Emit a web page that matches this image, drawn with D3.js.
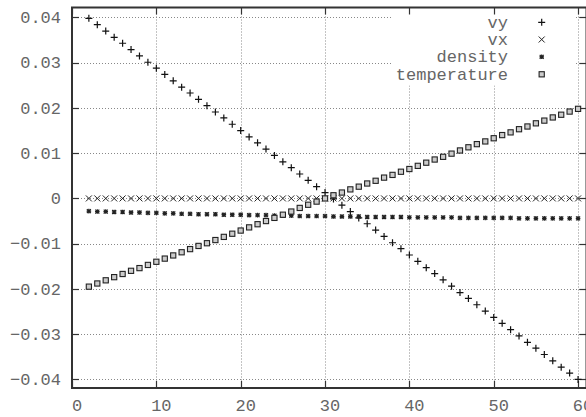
<!DOCTYPE html>
<html>
<head>
<meta charset="utf-8">
<script src="https://cdn.jsdelivr.net/npm/d3@7"></script>
<style>
  body { margin: 0; background: #fff; }
  #chart { width: 586px; height: 417px; }
  text { font-family: "Liberation Mono", "Courier New", monospace; fill: #666; }
</style>
</head>
<body>
<div id="chart"></div>
<script>
// sample positions (grid index)
var xs = [2,3,4,5,6,7,8,9,10,11,12,13,14,15,16,17,18,19,20,21,22,23,24,25,26,27,28,29,30,
          31,32,33,34,35,36,37,38,39,40,41,42,43,44,45,46,47,48,49,50,51,52,53,54,55,56,57,58,59,60];

var vy = [0.0398,0.0384,0.0370,0.0356,0.0343,0.0329,0.0315,0.0301,0.0288,0.0274,0.0260,0.0246,0.0233,0.0219,0.0205,
          0.0191,0.0178,0.0164,0.0150,0.0136,0.0123,0.0109,0.0095,0.0081,0.0068,0.0054,0.0040,0.0026,0.0013,
          -0.0001,-0.0015,-0.0029,-0.0043,-0.0056,-0.0070,-0.0084,-0.0098,-0.0111,-0.0125,-0.0139,-0.0153,-0.0166,
          -0.0180,-0.0194,-0.0208,-0.0221,-0.0235,-0.0249,-0.0263,-0.0276,-0.0290,-0.0304,-0.0318,-0.0331,-0.0345,
          -0.0359,-0.0373,-0.0386,-0.0400];

var vx = [0,0,0,0,0,0,0,0,0,0,0,0,0,0,0,0,0,0,0,0,0,0,0,0,0,0,0,0,0,
          0,0,0,0,0,0,0,0,0,0,0,0,0,0,0,0,0,0,0,0,0,0,0,0,0,0,0,0,0,0];

var density = [-0.0028,-0.0029,-0.0029,-0.0030,-0.0030,-0.0031,-0.0031,-0.0032,-0.0032,-0.0033,-0.0033,-0.0034,
               -0.0034,-0.0035,-0.0035,-0.0035,-0.0036,-0.0036,-0.0036,-0.0037,-0.0037,-0.0037,-0.0038,-0.0038,
               -0.0038,-0.0039,-0.0039,-0.0039,-0.0039,-0.0040,-0.0040,-0.0040,-0.0040,-0.0041,-0.0041,-0.0041,
               -0.0041,-0.0041,-0.0042,-0.0042,-0.0042,-0.0042,-0.0042,-0.0042,-0.0043,-0.0043,-0.0043,-0.0043,
               -0.0043,-0.0043,-0.0043,-0.0044,-0.0044,-0.0044,-0.0044,-0.0044,-0.0044,-0.0044,-0.0044];

var temperature = [-0.0195,-0.0188,-0.0181,-0.0174,-0.0167,-0.0160,-0.0154,-0.0147,-0.0140,-0.0133,-0.0126,-0.0119,
                   -0.0112,-0.0105,-0.0099,-0.0092,-0.0085,-0.0078,-0.0071,-0.0064,-0.0057,-0.0050,-0.0043,-0.0036,
                   -0.0029,-0.0021,-0.0014,-0.0007,0.0000,0.0007,0.0013,0.0020,0.0026,0.0033,0.0039,0.0046,0.0052,
                   0.0059,0.0065,0.0072,0.0079,0.0086,0.0092,0.0099,0.0106,0.0113,0.0120,0.0126,0.0133,0.0140,
                   0.0146,0.0153,0.0159,0.0166,0.0172,0.0179,0.0185,0.0192,0.0198];

var seriesNames = ["vy", "vx", "density", "temperature"];

var xTicks = [0, 10, 20, 30, 40, 50, 60];
var xTickLabels = ["0", "10", "20", "30", "40", "50", "60"];
var yTicks = [-0.04, -0.03, -0.02, -0.01, 0, 0.01, 0.02, 0.03, 0.04];
var yTickLabels = ["\u22120.04", "\u22120.03", "\u22120.02", "\u22120.01", "0", "0.01", "0.02", "0.03", "0.04"];

/* DIMENSIONS */
var width = 586, height = 417;
var plotL = 72, plotR = 586.5, plotT = 7.5, plotB = 388;

var svg = d3.select("#chart").append("svg")
    .attr("width", width)
    .attr("height", height);

var x = d3.scaleLinear().domain([0, 61]).range([plotL, plotR]);
var y = d3.scaleLinear().domain([-0.0419, 0.0422]).range([plotB, plotT]);

/* GRID */
var grid = svg.append("g").attr("stroke", "#888").attr("stroke-dasharray", "1,2").attr("stroke-width", 1);
grid.selectAll(".gx").data(xTicks.slice(1)).enter().append("line")
    .attr("x1", d => Math.round(x(d)) + 0.5).attr("x2", d => Math.round(x(d)) + 0.5)
    .attr("y1", plotT).attr("y2", plotB);
grid.selectAll(".gy").data(yTicks).enter().append("line")
    .attr("x1", plotL).attr("x2", plotR)
    .attr("y1", d => Math.round(y(d)) + 0.5).attr("y2", d => Math.round(y(d)) + 0.5);

/* LEGEND BACKGROUND (hides grid) */
svg.append("rect")
    .attr("x", 392).attr("y", plotT + 1)
    .attr("width", 182).attr("height", 77)
    .attr("fill", "#fff");

/* BORDER AND TICKS */
svg.append("rect")
    .attr("x", plotL).attr("y", plotT)
    .attr("width", plotR - plotL).attr("height", plotB - plotT)
    .attr("fill", "none").attr("stroke", "#333").attr("stroke-width", 2);

var tickLen = 7;
var ticks = svg.append("g").attr("stroke", "#333").attr("stroke-width", 1.2);
xTicks.forEach(function(d) {
    var px = Math.round(x(d)) + 0.5;
    ticks.append("line").attr("x1", px).attr("x2", px).attr("y1", plotB).attr("y2", plotB - tickLen);
    ticks.append("line").attr("x1", px).attr("x2", px).attr("y1", plotT).attr("y2", plotT + tickLen);
});
yTicks.forEach(function(d) {
    var py = Math.round(y(d)) + 0.5;
    ticks.append("line").attr("x1", plotL).attr("x2", plotL + tickLen).attr("y1", py).attr("y2", py);
    ticks.append("line").attr("x1", plotR).attr("x2", plotR - tickLen).attr("y1", py).attr("y2", py);
});

/* TICK LABELS */
svg.append("g").selectAll("text").data(xTicks).enter().append("text")
    .attr("x", d => x(d) + 5)
    .attr("y", 411)
    .attr("text-anchor", "middle")
    .style("font-size", "17px")
    .text((d, i) => xTickLabels[i]);

svg.append("g").selectAll("text").data(yTicks).enter().append("text")
    .attr("x", 61)
    .attr("y", d => y(d))
    .attr("dy", "0.33em")
    .attr("text-anchor", "end")
    .style("font-size", "17px")
    .text((d, i) => yTickLabels[i]);

/* MARKERS */
var markers = {
    vy: function(g) { g.append("path").attr("d", "M-3.5,0H3.5M0,-3.5V3.5").attr("stroke", "#111").attr("stroke-width", 1.2).attr("fill", "none"); },
    vx: function(g) { g.append("path").attr("d", "M-3,-3L3,3M-3,3L3,-3").attr("stroke", "#222").attr("stroke-width", 1).attr("fill", "none"); },
    density: function(g) { g.append("path").attr("d", "M-2.3,0H2.3M0,-2.3V2.3M-2,-2L2,2M-2,2L2,-2").attr("stroke", "#222").attr("stroke-width", 1.2).attr("fill", "none"); },
    temperature: function(g) { g.append("rect").attr("x", -2.6).attr("y", -2.6).attr("width", 5.2).attr("height", 5.2).attr("stroke", "#222").attr("stroke-width", 1.1).attr("fill", "#ccc"); }
};

var seriesData = { vy: vy, vx: vx, density: density, temperature: temperature };

seriesNames.forEach(function(name) {
    var pts = svg.append("g").selectAll("g").data(xs).enter().append("g")
        .attr("transform", (d, i) => "translate(" + x(d) + "," + y(seriesData[name][i]) + ")");
    pts.each(function() { markers[name](d3.select(this)); });
});

/* LEGEND */
var legendY = [22.3, 39.5, 56.8, 74.3];
seriesNames.forEach(function(name, i) {
    svg.append("text")
        .attr("x", 508)
        .attr("y", legendY[i])
        .attr("dy", "0.33em")
        .attr("text-anchor", "end")
        .style("font-size", "17px")
        .text(name);
    var g = svg.append("g").attr("transform", "translate(541.7," + legendY[i] + ")");
    markers[name](g);
});
</script>
</body>
</html>
